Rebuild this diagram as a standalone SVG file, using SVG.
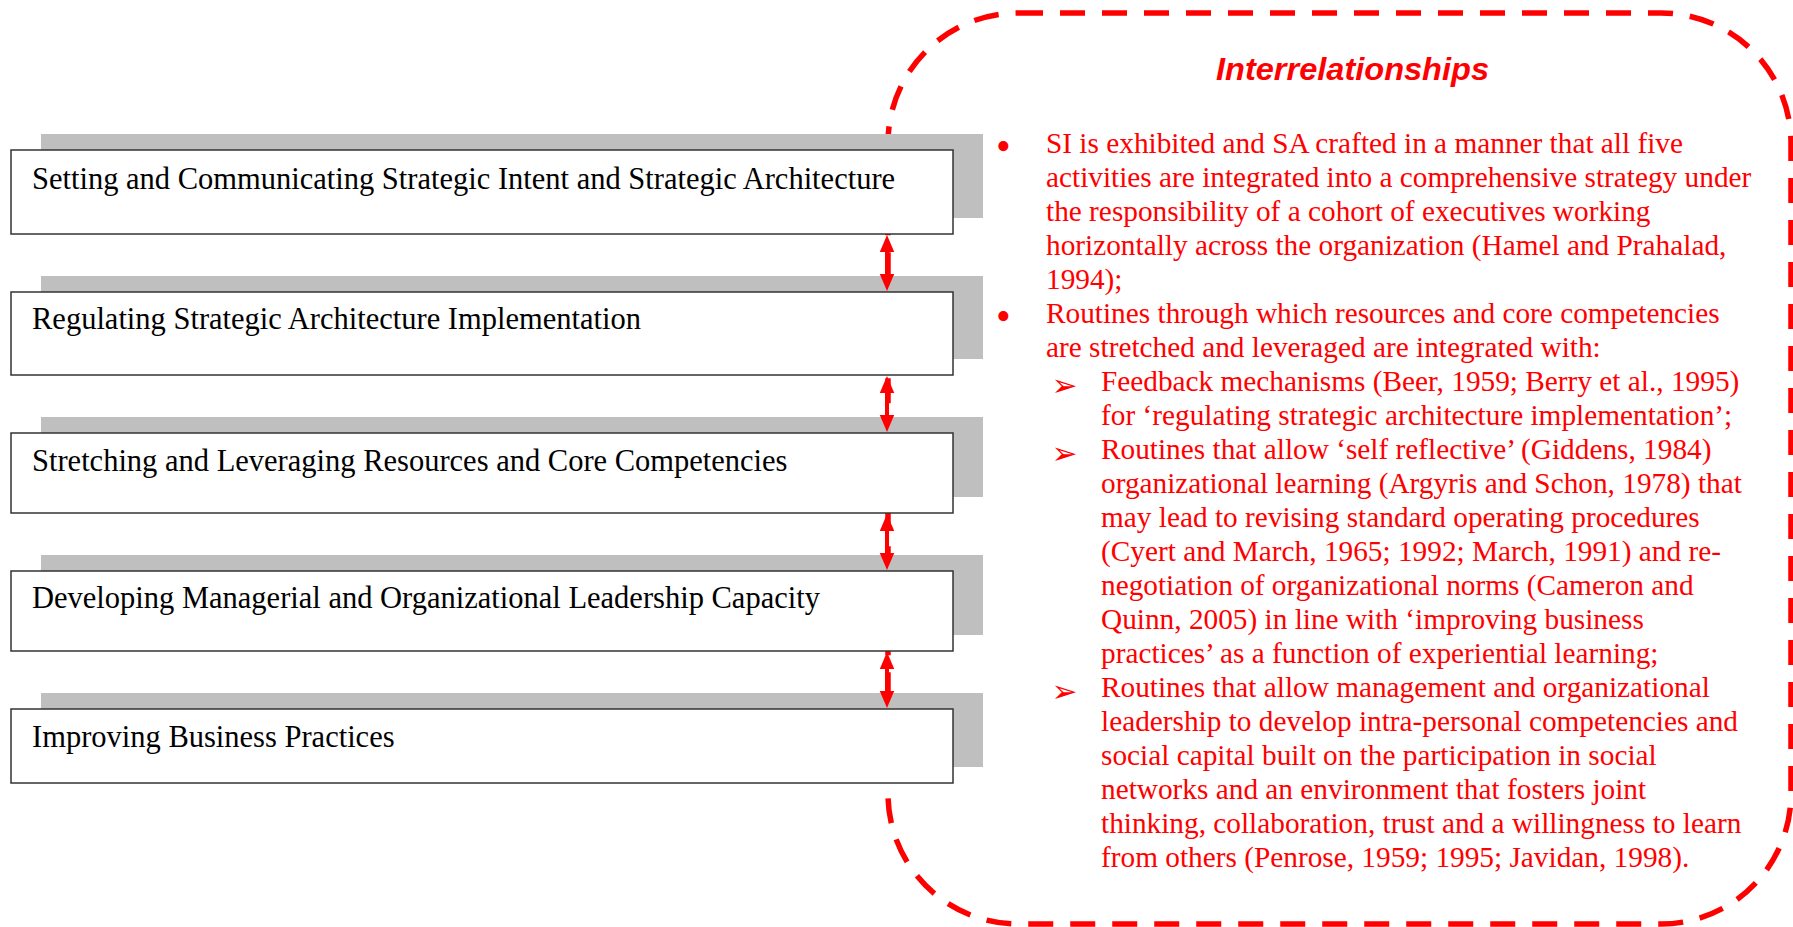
<svg xmlns="http://www.w3.org/2000/svg" width="1793" height="927" viewBox="0 0 1793 927">
<style>
.shadow{fill:#BFBFBF;stroke:none}
.box{fill:#FFFFFF;stroke:#333333;stroke-width:1.5}
.btxt{font-family:"Liberation Serif","Times New Roman",serif;font-size:30.5px;fill:#000000}
.body{font-family:"Liberation Serif","Times New Roman",serif;font-size:29.3px;fill:#FF0000}
.bul{font-family:"Liberation Serif","Times New Roman",serif;font-size:42px;fill:#FF0000}
.sym{font-family:"DejaVu Sans",sans-serif;font-size:31px;fill:#FF0000}
.title{font-family:"Liberation Sans",Arial,sans-serif;font-size:31px;font-weight:bold;font-style:italic;fill:#FF0000}
.conn{stroke:#FF0000;stroke-width:4;fill:none}
</style>
<defs>
<marker id="ah" markerUnits="userSpaceOnUse" markerWidth="18" markerHeight="15" viewBox="0 0 18 15" refX="9" refY="7.25" orient="auto-start-reverse">
<path d="M0,0 L17,7.25 L0,14.5 z" fill="#FF0000"/>
</marker>
</defs>
<rect width="1793" height="927" fill="#FFFFFF"/>
<g id="interrelationships-frame">
<rect x="888" y="13" width="903" height="911" rx="130" ry="130" fill="none" stroke="#FF0000" stroke-width="5.5" stroke-dasharray="25 17"/>
</g>
<g id="node-setting">
<rect class="shadow" x="41" y="134" width="942" height="84"/>
<rect class="box" x="11" y="150" width="942" height="84"/>
<text class="btxt" x="32" y="189">Setting and Communicating Strategic Intent and Strategic Architecture</text>
</g>
<g id="node-regulating">
<rect class="shadow" x="41" y="276" width="942" height="83"/>
<rect class="box" x="11" y="292" width="942" height="83"/>
<text class="btxt" x="32" y="329">Regulating Strategic Architecture Implementation</text>
</g>
<g id="node-stretching">
<rect class="shadow" x="41" y="417" width="942" height="80"/>
<rect class="box" x="11" y="433" width="942" height="80"/>
<text class="btxt" x="32" y="471">Stretching and Leveraging Resources and Core Competencies</text>
</g>
<g id="node-developing">
<rect class="shadow" x="41" y="555" width="942" height="80"/>
<rect class="box" x="11" y="571" width="942" height="80"/>
<text class="btxt" x="32" y="608">Developing Managerial and Organizational Leadership Capacity</text>
</g>
<g id="node-improving">
<rect class="shadow" x="41" y="693" width="942" height="74"/>
<rect class="box" x="11" y="709" width="942" height="74"/>
<text class="btxt" x="32" y="747">Improving Business Practices</text>
</g>
<g id="connectors">
<path class="conn" d="M887,243 L887,283" marker-start="url(#ah)" marker-end="url(#ah)"/>
<path class="conn" d="M887,384 L887,424" marker-start="url(#ah)" marker-end="url(#ah)"/>
<path class="conn" d="M887,522 L887,562" marker-start="url(#ah)" marker-end="url(#ah)"/>
<path class="conn" d="M887,660 L887,700" marker-start="url(#ah)" marker-end="url(#ah)"/>
</g>
<g id="interrelationships-text">
<text class="title" x="1352.5" y="80" text-anchor="middle" textLength="273" lengthAdjust="spacingAndGlyphs">Interrelationships</text>
<text class="bul">
<tspan x="996" y="160">•</tspan>
<tspan x="996" y="330">•</tspan>
</text>
<text class="body">
<tspan x="1046" y="153.3">SI is exhibited and SA crafted in a manner that all five</tspan>
<tspan x="1046" y="187.3">activities are integrated into a comprehensive strategy under</tspan>
<tspan x="1046" y="221.2">the responsibility of a cohort of executives working</tspan>
<tspan x="1046" y="255.2">horizontally across the organization (Hamel and Prahalad,</tspan>
<tspan x="1046" y="289.2">1994);</tspan>
<tspan x="1046" y="323.1">Routines through which resources and core competencies</tspan>
<tspan x="1046" y="357.1">are stretched and leveraged are integrated with:</tspan>
<tspan x="1101" y="391.1">Feedback mechanisms (Beer, 1959; Berry et al., 1995)</tspan>
<tspan x="1101" y="425.1">for ‘regulating strategic architecture implementation’;</tspan>
<tspan x="1101" y="459.0">Routines that allow ‘self reflective’ (Giddens, 1984)</tspan>
<tspan x="1101" y="493.0">organizational learning (Argyris and Schon, 1978) that</tspan>
<tspan x="1101" y="527.0">may lead to revising standard operating procedures</tspan>
<tspan x="1101" y="561.0">(Cyert and March, 1965; 1992; March, 1991) and re-</tspan>
<tspan x="1101" y="594.9">negotiation of organizational norms (Cameron and</tspan>
<tspan x="1101" y="628.9">Quinn, 2005) in line with ‘improving business</tspan>
<tspan x="1101" y="662.9">practices’ as a function of experiential learning;</tspan>
<tspan x="1101" y="696.8">Routines that allow management and organizational</tspan>
<tspan x="1101" y="730.8">leadership to develop intra-personal competencies and</tspan>
<tspan x="1101" y="764.8">social capital built on the participation in social</tspan>
<tspan x="1101" y="798.8">networks and an environment that fosters joint</tspan>
<tspan x="1101" y="832.7">thinking, collaboration, trust and a willingness to learn</tspan>
<tspan x="1101" y="866.7">from others (Penrose, 1959; 1995; Javidan, 1998).</tspan>
</text>
<text class="sym">
<tspan x="1051.5" y="395.5">➢</tspan>
<tspan x="1051.5" y="463.5">➢</tspan>
<tspan x="1051.5" y="701.5">➢</tspan>
</text>
</g>
</svg>
